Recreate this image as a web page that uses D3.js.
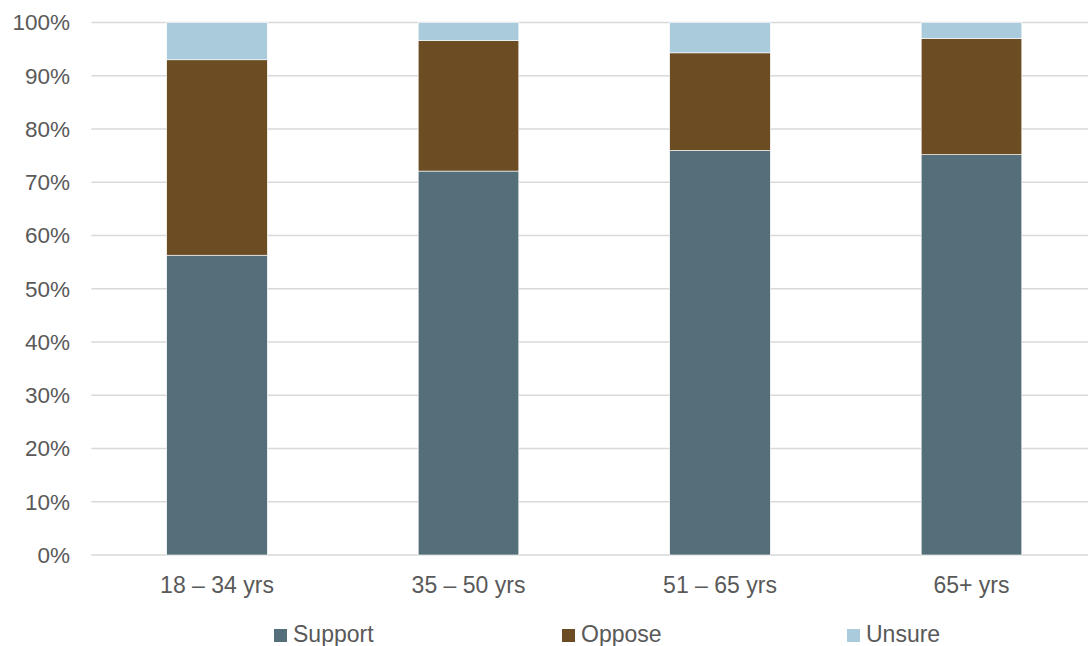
<!DOCTYPE html>
<html><head><meta charset="utf-8">
<script src="https://cdn.jsdelivr.net/npm/d3@7"></script>
<style>body{margin:0;background:#fff;}svg{display:block;font-family:"Liberation Sans",Arial,sans-serif;}</style>
</head><body><svg id="c" width="1088" height="646"></svg>
<script>
const categories = ["18 – 34 yrs", "35 – 50 yrs", "51 – 65 yrs", "65+ yrs"];
const seriesNames = ["Support", "Oppose", "Unsure"];
const support = [56.3, 72.1, 76.0, 75.2];
const oppose = [36.7, 24.5, 18.3, 21.8];
const unsure = [7.0, 3.4, 5.7, 3.0];
const colors = ["#546e7a", "#6b4c23", "#a9cbdc"];
const yTicks = [0, 10, 20, 30, 40, 50, 60, 70, 80, 90, 100];

const svg = d3.select("#c");
const x = d3.scaleBand().domain(categories).range([91.25, 1097.25]).paddingInner(0.6).paddingOuter(0.3);
const y = d3.scaleLinear().domain([0, 100]).range([555, 22.5]);

const rows = categories.map((c, i) => ({cat: c, Support: support[i], Oppose: oppose[i], Unsure: unsure[i]}));
const stack = d3.stack().keys(seriesNames)(rows);

// gridlines
svg.append("g").selectAll("line").data(yTicks).join("line")
  .attr("x1", 91.25).attr("x2", 1088)
  .attr("y1", d => y(d)).attr("y2", d => y(d))
  .attr("stroke", "#d9d9d9").attr("stroke-width", 1.5);

// y labels
svg.append("g").selectAll("text").data(yTicks).join("text")
  .attr("x", 70).attr("y", d => y(d)).attr("dy", "0.35em")
  .attr("text-anchor", "end").attr("font-size", 22.5).attr("fill", "#595959")
  .text(d => d + "%");

// bars
svg.append("g").selectAll("g").data(stack).join("g")
  .attr("fill", (d, i) => colors[i])
  .selectAll("rect").data(d => d).join("rect")
  .attr("x", d => x(d.data.cat)).attr("width", x.bandwidth())
  .attr("y", d => y(d[1])).attr("height", d => y(d[0]) - y(d[1]))
  .attr("stroke", "#ffffff").attr("stroke-width", 0.6);

// x labels
svg.append("g").selectAll("text").data(categories).join("text")
  .attr("x", d => x(d) + x.bandwidth() / 2).attr("y", 593)
  .attr("text-anchor", "middle").attr("font-size", 23).attr("fill", "#595959")
  .text(d => d);

// legend
const legX = [274, 562, 847];
const leg = svg.append("g").selectAll("g").data(seriesNames).join("g")
  .attr("transform", (d, i) => `translate(${legX[i]},0)`);
leg.append("rect").attr("x", 0).attr("y", 629).attr("width", 13).attr("height", 13)
  .attr("fill", (d, i) => colors[i]);
leg.append("text").attr("x", 19).attr("y", 642).attr("font-size", 23).attr("fill", "#595959")
  .text(d => d);
</script></body></html>
